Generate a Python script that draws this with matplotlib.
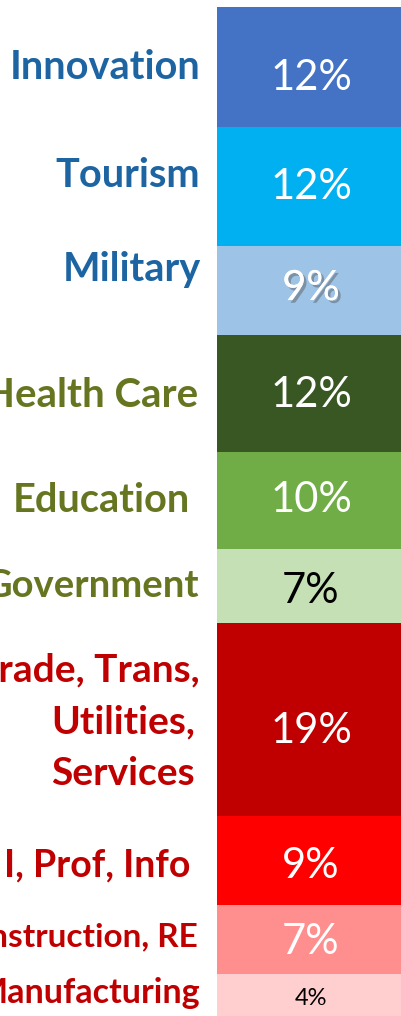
import matplotlib
matplotlib.use("Agg")
import matplotlib.pyplot as plt
import matplotlib.patheffects as pe
import numpy as np

# ---- data (top to bottom) ----
categories = ["Innovation", "Tourism", "Military", "Health Care", "Education",
              "Government", "Trade, Trans,\nUtilities,\nServices", "I, Prof, Info",
              "Construction, RE", "Manufacturing"]
shares = [11.9, 11.8, 8.8, 11.6, 9.6, 7.4, 19.1, 8.8, 6.8, 4.2]
value_labels = ["12%", "12%", "9%", "12%", "10%", "7%", "19%", "9%", "7%", "4%"]

# ---- styling ----
bar_colors = ["#4472C4", "#00B0F0", "#9DC3E6", "#385723", "#70AD47",
              "#C5E0B4", "#C00000", "#FF0000", "#FF8F8F", "#FFCFCF"]
blue, green, red = "#1D64A3", "#667620", "#C00000"
label_colors = [blue, blue, blue, green, green, green, red, red, red, red]
value_colors = ["white", "white", "white", "white", "white", "black",
                "white", "white", "white", "black"]
value_sizes = [30, 30, 30, 30, 30, 30, 30, 30, 30, 17]
label_sizes = [28.6, 28.6, 28.6, 29, 28.6, 27.5, 28, 27, 24, 24.5]
label_right_px = [200, 200, 201, 198, 190, 199, 200, 190, 198, 200]
label_base_dy = [-12, 0, 10, -13.5, -12, -11, 38, -16, -7, -8]   # px, +up
value_base_dy = [-23, -12.5, -9.5, -13.5, -12, -17, -23, -17, -15, -10]
line_step_px = 51.5
line_dx_px = [0, -5, -5]

W, H = 401, 1016
fig = plt.figure(figsize=(W / 100, H / 100), dpi=100)
bar_left, bar_right, bar_top = 217, 405, 7
ax = fig.add_axes([bar_left / W, 0, (bar_right - bar_left) / W, (H - bar_top) / H])

bottoms = np.concatenate([[0], np.cumsum(shares)[:-1]])
ax.bar([0.5] * len(shares), shares, bottom=bottoms, width=1.0,
       color=bar_colors, linewidth=0)
total = float(np.sum(shares))
ax.set_xlim(0, 1)
ax.set_ylim(total, 0)
ax.axis("off")

val_cx = 311 - bar_left
for i, (cat, s, b) in enumerate(zip(categories, shares, bottoms)):
    yc = b + s / 2
    lines = cat.split("\n")
    for j, line in enumerate(lines):
        dx = line_dx_px[j] if len(lines) > 1 else 0
        ax.annotate(line, xy=(0, yc), xycoords="data",
                    xytext=(label_right_px[i] - bar_left + dx, label_base_dy[i] - j * line_step_px),
                    textcoords="offset pixels", ha="right", va="baseline",
                    fontsize=label_sizes[i], fontweight="bold", family="Lato",
                    color=label_colors[i], annotation_clip=False)
    effects = None
    if categories[i] == "Military":
        effects = [pe.withSimplePatchShadow(offset=(2, -2), shadow_rgbFace="#555555", alpha=0.45),
                   pe.Normal()]
    ax.annotate(value_labels[i], xy=(0, yc), xycoords="data",
                xytext=(val_cx, value_base_dy[i]), textcoords="offset pixels",
                ha="center", va="baseline", fontsize=value_sizes[i], family="Lato",
                color=value_colors[i], annotation_clip=False, path_effects=effects)

fig.savefig("out.png", dpi=100)
